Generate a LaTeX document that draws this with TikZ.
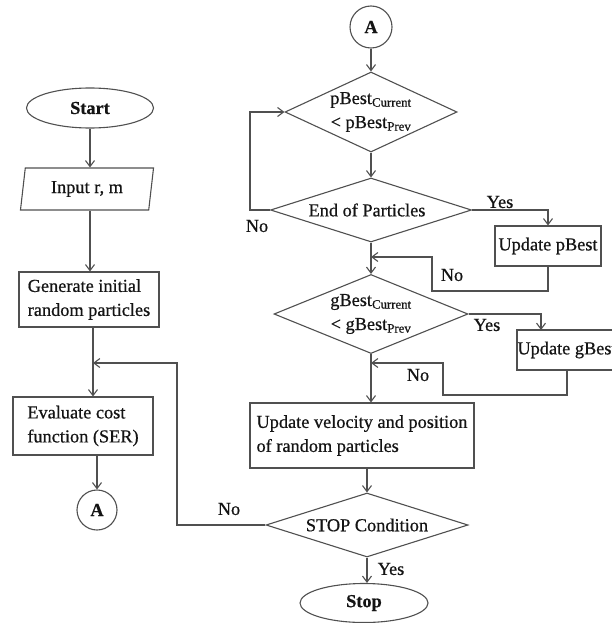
\documentclass[tikz,border=0pt]{standalone}
\usepackage{fontspec}
\setmainfont{Liberation Serif}[FakeBold=0.6]
\usetikzlibrary{shapes.geometric,arrows.meta}
\definecolor{linec}{HTML}{505050}
\definecolor{txtc}{HTML}{141414}
\begin{document}
\begin{tikzpicture}[x=1pt,y=-1pt,
  every node/.style={font=\fontsize{18.3}{24}\selectfont, text=txtc},
  ln/.style={draw=linec, line width=1.1pt},
  arr/.style={ln, -{Straight Barb[length=6pt,width=9pt]}},
  box/.style={ln, rectangle, inner sep=0pt, align=left},
  dia/.style={ln, diamond, inner sep=0pt},
  term/.style={ln, ellipse, inner sep=0pt, font=\fontsize{18.3}{24}\selectfont\bfseries},
  conn/.style={ln, circle, inner sep=0pt, minimum size=40pt, font=\fontsize{18.3}{24}\selectfont\bfseries},
  lbl/.style={inner sep=0pt}
]
\useasboundingbox[fill=white] (0,0) rectangle (612,623);

% left column
\node[term, minimum width=127pt, minimum height=40pt] (start) at (90,108) {Start};
\node[ln, trapezium, trapezium left angle=80, trapezium right angle=100,
      trapezium stretches=true, minimum width=134pt, minimum height=42pt,
      inner sep=0pt] (inp) at (87,189) {Input r, m};
\node[box, minimum width=140pt, minimum height=55pt] (gen) at (89,299.5) {Generate initial\\random particles};
\node[box, minimum width=140pt, minimum height=58pt] (eval) at (83,426) {Evaluate cost\\function (SER)};
\node[conn] (a1) at (97,510) {A};

% right column
\node[conn, minimum size=42pt] (a2) at (371,27) {A};
\node[dia, minimum width=172pt, minimum height=80pt] (d1) at (371,112) {};
\node[lbl, align=center] (t1) at (d1) {pBest\textsubscript{Current}\\< pBest\textsubscript{Prev}};
\node[dia, minimum width=201pt, minimum height=64pt] (d2) at (371,210) {};
\node[lbl] (t2) at ([xshift=-4pt]d2.center) {End of Particles};
\node[box, align=center, minimum width=106pt, minimum height=40pt] (upb) at (548,246) {Update pBest};
\node[dia, minimum width=194pt, minimum height=79pt] (d3) at (371,314) {};
\node[lbl, align=center] (t3) at (d3) {gBest\textsubscript{Current}\\< gBest\textsubscript{Prev}};
\node[box, align=center, minimum width=100pt, minimum height=40pt] (upg) at (567,350) {Update gBest};
\node[box, minimum width=224pt, minimum height=65pt] (upv) at (362,435.5) {Update velocity and position\\of random particles};
\node[dia, minimum width=202pt, minimum height=64pt] (d4) at (367,525) {};
\node[lbl] (t4) at (d4) {STOP Condition};
\node[term, minimum width=128pt, minimum height=39pt] (stop) at (364,603) {Stop};

% helper coordinates
\coordinate (lp) at (177,363);
\coordinate (j1) at (93,363);
\coordinate (n1) at (432,291);
\coordinate (n2) at (432,257);
\coordinate (n3) at (371,257);
\coordinate (gy) at (541,330);
\coordinate (g1) at (567,395);
\coordinate (g2) at (443,395);
\coordinate (g3) at (443,363);
\coordinate (g4) at (371,363);

% left arrows
\draw[arr] (start.south) -- (start.south |- inp.north);
\draw[arr] (inp.south -| start) -- (gen.north -| start);
\draw[arr] (j1 |- gen.south) -- (j1 |- eval.north);
\draw[arr] (eval.south -| a1) -- (a1.north);
\draw[arr] (d4.west) -| (lp) -- (j1);

% right arrows
\draw[arr] (a2.south) -- (d1.north);
\draw[arr] (d1.south) -- (d2.north);
\draw[arr] (d2.east) -| (upb.north);
\draw[arr] (d2.west) -- ++(-20,0) |- (d1.west);
\draw[arr] (d2.south) -- (d3.north);
\draw[arr] (upb.south) |- (n1) -- (n2) -- (n3);
\draw[arr] (d3.east) -| (gy);
\draw[arr] (upg.south) -- (g1) -- (g2) -- (g3) -- (g4);
\draw[arr] (d3.south) -- (d3.south |- upv.north);
\draw[arr] (d4.north |- upv.south) -- (d4.north);
\draw[arr] (d4.south) -- (d4.south |- stop.north);

% labels
\node[lbl] (l1) at (257,226) {No};
\node[lbl] (l2) at (500,202) {Yes};
\node[lbl] (l3) at (452,275) {No};
\node[lbl] (l4) at (487,325) {Yes};
\node[lbl] (l5) at (418,375) {No};
\node[lbl] (l6) at (229,509) {No};
\node[lbl] (l7) at (391,569) {Yes};
\end{tikzpicture}
\end{document}
